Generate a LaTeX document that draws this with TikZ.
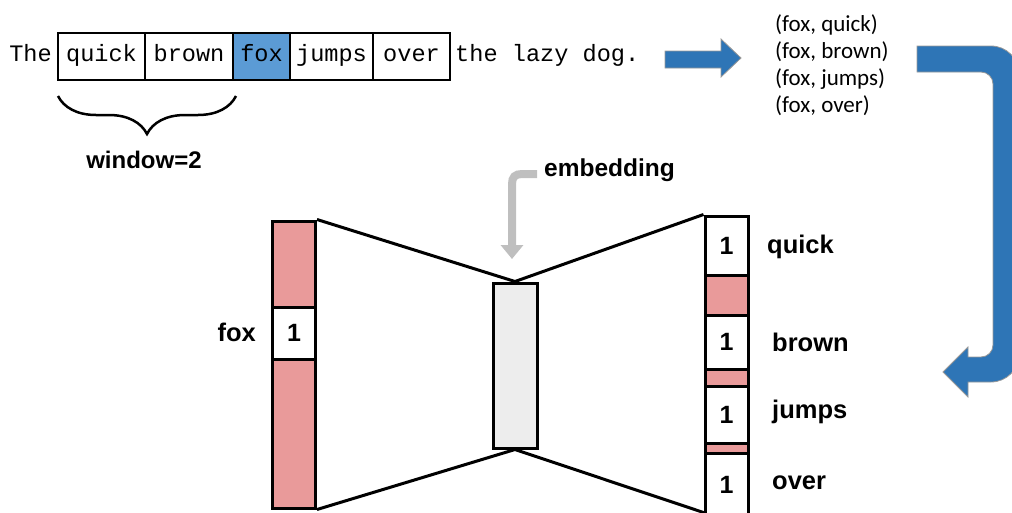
\documentclass[tikz,border=0pt]{standalone}
\usepackage{fontspec}
\setmainfont{Liberation Sans}
\newfontfamily\monof{Liberation Mono}
\newfontfamily\calibri{Carlito}
\usetikzlibrary{decorations.pathreplacing,arrows.meta}
\definecolor{pinkc}{HTML}{E99A9A}
\definecolor{foxblue}{HTML}{5B9BD5}
\definecolor{arrblue}{HTML}{2E75B6}
\definecolor{midgray}{HTML}{EDEDED}
\definecolor{embgray}{HTML}{BFBFBF}
\begin{document}
\begin{tikzpicture}[x=1pt,y=-1pt,
  wordbox/.style={draw=black,line width=1.8pt,minimum height=47pt,inner sep=0pt,font=\monof\fontsize{23.6}{26}\selectfont,text height=14pt,text depth=4pt},
  plaintxt/.style={inner sep=0pt,font=\monof\fontsize{23.6}{26}\selectfont,text height=14pt,text depth=4pt},
  cellw/.style={draw=black,line width=3pt,fill=white,inner sep=0pt,minimum width=43pt,font=\bfseries\fontsize{25}{28}\selectfont},
  cellp/.style={draw=black,line width=3pt,fill=pinkc,inner sep=0pt,minimum width=43pt},
  lbl/.style={inner sep=0pt,font=\bfseries\fontsize{25.5}{28}\selectfont},
  pairtxt/.style={inner sep=0pt,anchor=west,font=\calibri\fontsize{23}{26}\selectfont},
  conn/.style={line width=3pt,black},
  bigarrow/.style={fill=arrblue,draw=gray!80,line width=0.8pt}
]
\useasboundingbox (0,0) rectangle (1012,512);
% sentence
\node[plaintxt,anchor=east] (the) at (52,56.5) {The};
\node[wordbox,minimum width=87pt] (w1) at (101.5,56.5) {quick};
\node[wordbox,minimum width=88pt] (w2) at (189,56.5) {brown};
\node[wordbox,minimum width=57pt,fill=foxblue] (w3) at (261.5,56.5) {fox};
\node[wordbox,minimum width=83pt] (w4) at (331.5,56.5) {jumps};
\node[wordbox,minimum width=77pt] (w5) at (411.5,56.5) {over};
\node[plaintxt,anchor=west] (rest) at (455,56.5) {the lazy dog.};
% brace
\coordinate (bl) at (58,96);
\coordinate (br) at (236,96);
\draw[line width=2.5pt,decorate,decoration={brace,mirror,amplitude=38pt}] (bl) -- (br);
\node[lbl,font=\bfseries\fontsize{24}{26}\selectfont] (win) at (144,160) {window=2};
% straight arrow
\draw[bigarrow] (665,51) -- (721,51) -- (721,39) -- (741,58) -- (721,77) -- (721,68) -- (665,68) -- cycle;
% pairs
\node[pairtxt] (p1) at (775,25) {(fox, quick)};
\node[pairtxt] (p2) at (775,52) {(fox, brown)};
\node[pairtxt] (p3) at (775,79) {(fox, jumps)};
\node[pairtxt] (p4) at (775,106) {(fox, over)};
% curved arrow
\draw[bigarrow] (917,46) -- (991,46) .. controls (1006.5,46) and (1019,58.5) .. (1019,74)
  -- (1019,354) .. controls (1019,369.5) and (1006.5,382) .. (991,382)
  -- (968,382) -- (968,397) -- (943,372) -- (968,347) -- (968,357) -- (981,357)
  .. controls (987.6,357) and (993,351.6) .. (993,345) -- (993,84)
  .. controls (993,77.4) and (987.6,72) .. (981,72) -- (917,72) -- cycle;
% left column
\node[cellp,minimum height=86pt] (l1) at (294,264) {};
\node[cellw,minimum height=52pt] (l2) at (294,333) {1};
\node[cellp,minimum height=149pt] (l3) at (294,433.5) {};
\node[lbl,anchor=east] (fox) at (256,332) {fox};
% middle
\node[draw=black,line width=3pt,fill=midgray,minimum width=44pt,minimum height=165pt,inner sep=0pt] (mid) at (515,365.5) {};
% right column
\node[cellw,minimum height=59pt] (r1) at (726.5,245.5) {1};
\node[cellp,minimum height=40pt] (r2) at (726.5,295) {};
\node[cellw,minimum height=54pt] (r3) at (726.5,342) {1};
\node[cellp,minimum height=17pt] (r4) at (726.5,377.5) {};
\node[cellw,minimum height=57pt] (r5) at (726.5,414.5) {1};
\node[cellp,minimum height=10pt] (r6) at (726.5,448) {};
\node[cellw,minimum height=63pt] (r7) at (726.5,484.5) {1};
\node[lbl,anchor=west] (lq) at (767,247) {quick};
\node[lbl,anchor=west] (lb) at (772,342) {brown};
\node[lbl,anchor=west] (lj) at (772,412) {jumps};
\node[lbl,anchor=west] (lo) at (772,483) {over};
% connectors
\coordinate (rb) at (705,513);
\draw[conn] (l1.north east) -- (mid.north) -- (r1.north west);
\draw[conn] (l3.south east) -- (mid.south) -- (rb);
% embedding arrow
\node[lbl,anchor=west,font=\bfseries\fontsize{24.5}{26}\selectfont] (emb) at (544,170) {embedding};
\coordinate (ea) at (537,174);
\coordinate (eb) at (512,259);
\draw[embgray,line width=8pt,-{Triangle[width=22pt,length=14pt]}] (ea) -- (522,174) .. controls (515,174) and (512,177) .. (512,184) -- (eb);
\end{tikzpicture}
\end{document}
